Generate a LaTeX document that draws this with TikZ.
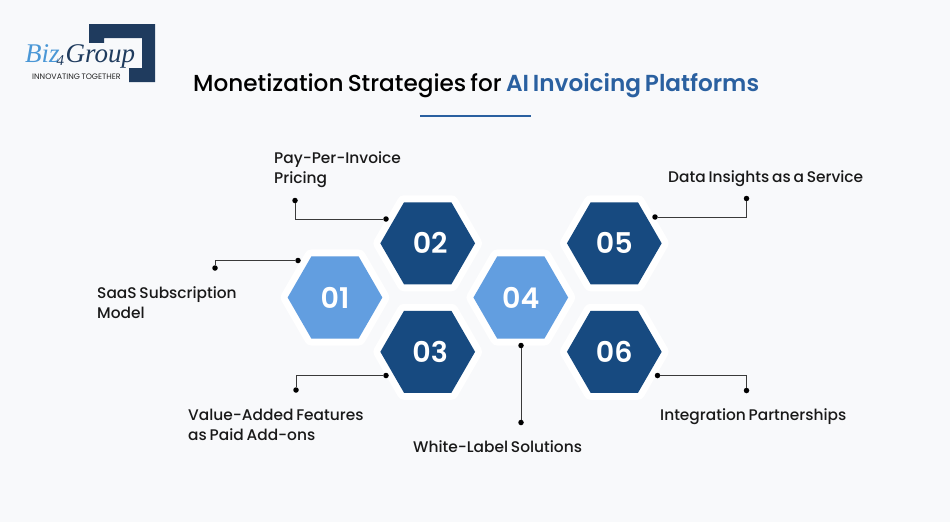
\documentclass[tikz,border=0pt]{standalone}
\usepackage{fontspec}
\setmainfont{Poppins}[WordSpace=0.7]
\newfontfamily\logofont{Liberation Serif}
\newfontfamily\semifont{Poppins SemiBold}[WordSpace=0.7]
\newfontfamily\midfont{Poppins Medium}[WordSpace=0.7]
\usetikzlibrary{shapes.geometric}
\definecolor{pagebg}{HTML}{F8F9FB}
\definecolor{hexdark}{HTML}{174A80}
\definecolor{hexlight}{HTML}{629EE0}
\definecolor{titleblue}{HTML}{2A60A0}
\definecolor{logonavy}{HTML}{1F3B5E}
\definecolor{logoblue}{HTML}{4A97D6}
\definecolor{wireline}{HTML}{3A3A3A}
\tikzset{
	hexbase/.style={regular polygon, regular polygon sides=6, minimum size=94.7pt, inner sep=0pt, outer sep=0pt, text=white, font=\semifont\fontsize{28.5}{29}\selectfont, preaction={draw=white, line width=14pt, line join=round}},
	hexstrong/.style={hexbase, fill=hexdark},
	hexsoft/.style={hexbase, fill=hexlight},
	pin/.style={circle, fill=black, minimum size=5.5pt, inner sep=0pt, outer sep=0pt},
	wire/.style={draw=wireline, line width=1pt},
	caption/.style={anchor=base west, align=left, inner sep=0pt, text=black!90, font=\midfont\fontsize{15.4}{20}\selectfont},
}
\begin{document}
\begin{tikzpicture}[x=1pt, y=-1pt]
	%%%%% START %%%%%
	
	\fill[pagebg] (0, 0) rectangle (950, 522);
	
	\fill[logonavy] (89, 24) -- (155, 24) -- (155, 82) -- (129, 82) -- (129, 68) -- (142, 68) -- (142, 38) -- (104, 38) -- (104, 43) -- (89, 43) -- cycle;
	\fill[pagebg] (24, 43) rectangle (129, 68);
	\node[inner sep=0pt, anchor=base west, text=logoblue, font=\logofont\itshape\fontsize{27}{27}\selectfont] (logobiz) at (25, 62) {Biz};
	\node[inner sep=0pt, anchor=base west, text=logonavy, font=\logofont\itshape\fontsize{15}{15}\selectfont] (logofour) at (56.5, 65) {4};
	\node[inner sep=0pt, anchor=base west, text=logonavy, font=\logofont\itshape\fontsize{27}{27}\selectfont] (logogroup) at (65.5, 62) {Group};
	\node[inner sep=0pt, text=black!85, font=\fontsize{7.9}{8}\selectfont] (logotag) at (76.5, 76.7) {INNOVATING TOGETHER};
	
	\node[inner sep=0pt, anchor=base west, font=\midfont\fontsize{23.15}{24}\selectfont] (title) at (193, 91) {Monetization Strategies for \textcolor{titleblue}{\semifont AI Invoicing Platforms}};
	\fill[titleblue] (420, 115.3) rectangle (531, 116.7);
	
	\node[hexsoft] (hexa) at (335, 297.5) {01};
	\node[hexstrong] (hexb) at (427.7, 243.3) {\hspace{5pt}02};
	\node[hexstrong] (hexc) at (427.7, 351.8) {\hspace{5pt}03};
	\node[hexsoft] (hexd) at (520.8, 297.5) {04};
	\node[hexstrong] (hexe) at (614.3, 243.3) {05};
	\node[hexstrong] (hexf) at (614.3, 351.8) {06};
	
	\node[pin] (pinaa) at (215, 268) {};
	\node[pin] (pinab) at (298, 260.5) {};
	\draw[wire] (pinaa) |- (pinab);
	
	\node[pin] (pinba) at (295, 200.5) {};
	\node[pin] (pinbb) at (386, 219) {};
	\draw[wire] (pinba) |- (pinbb);
	
	\node[pin] (pinca) at (296, 390) {};
	\node[pin] (pincb) at (386, 375.5) {};
	\draw[wire] (pinca) |- (pincb);
	
	\node[pin] (pinda) at (521, 345.5) {};
	\node[pin] (pindb) at (521, 422.5) {};
	\draw[wire] (pinda) -- (pindb);
	
	\node[pin] (pinea) at (655, 217) {};
	\node[pin] (pineb) at (746.5, 198.5) {};
	\draw[wire] (pinea) -| (pineb);
	
	\node[pin] (pinfa) at (657.5, 375.5) {};
	\node[pin] (pinfb) at (746.5, 390.5) {};
	\draw[wire] (pinfa) -| (pinfb);
	
	\node[caption] (capa) at (97, 318) {SaaS Subscription\\Model};
	\node[caption] (capb) at (274, 183) {Pay-Per-Invoice\\Pricing};
	\node[caption] (capc) at (188, 440) {Value-Added Features\\as Paid Add-ons};
	\node[caption] (capd) at (413, 452) {White-Label Solutions};
	\node[caption] (cape) at (668, 182) {Data Insights as a Service};
	\node[caption] (capf) at (660, 420) {Integration Partnerships};
	
	%%%%% END %%%%%
\end{tikzpicture}
\end{document}
